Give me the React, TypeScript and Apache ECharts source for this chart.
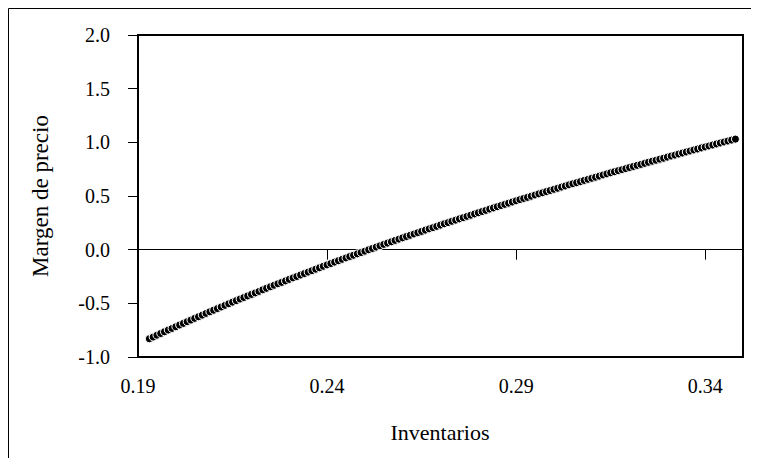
import React, { useEffect, useRef } from "react";
import * as echarts from "echarts";

const xValues: number[] = [
  0.193, 0.194, 0.195, 0.196, 0.197, 0.198, 0.199, 0.2, 0.201, 0.202, 0.203, 0.204, 0.205,
  0.206, 0.207, 0.208, 0.209, 0.21, 0.211, 0.212, 0.213, 0.214, 0.215, 0.216, 0.217, 0.218,
  0.219, 0.22, 0.221, 0.222, 0.223, 0.224, 0.225, 0.226, 0.227, 0.228, 0.229, 0.23, 0.231,
  0.232, 0.233, 0.234, 0.235, 0.236, 0.237, 0.238, 0.239, 0.24, 0.241, 0.242, 0.243, 0.244,
  0.245, 0.246, 0.247, 0.248, 0.249, 0.25, 0.251, 0.252, 0.253, 0.254, 0.255, 0.256, 0.257,
  0.258, 0.259, 0.26, 0.261, 0.262, 0.263, 0.264, 0.265, 0.266, 0.267, 0.268, 0.269, 0.27,
  0.271, 0.272, 0.273, 0.274, 0.275, 0.276, 0.277, 0.278, 0.279, 0.28, 0.281, 0.282, 0.283,
  0.284, 0.285, 0.286, 0.287, 0.288, 0.289, 0.29, 0.291, 0.292, 0.293, 0.294, 0.295, 0.296,
  0.297, 0.298, 0.299, 0.3, 0.301, 0.302, 0.303, 0.304, 0.305, 0.306, 0.307, 0.308, 0.309,
  0.31, 0.311, 0.312, 0.313, 0.314, 0.315, 0.316, 0.317, 0.318, 0.319, 0.32, 0.321, 0.322,
  0.323, 0.324, 0.325, 0.326, 0.327, 0.328, 0.329, 0.33, 0.331, 0.332, 0.333, 0.334, 0.335,
  0.336, 0.337, 0.338, 0.339, 0.34, 0.341, 0.342, 0.343, 0.344, 0.345, 0.346, 0.347, 0.348,
];

const yValues: number[] = [
  -0.83, -0.814, -0.797, -0.781, -0.765, -0.749, -0.734, -0.718, -0.702, -0.687, -0.671, -0.656, -0.64,
  -0.625, -0.61, -0.594, -0.579, -0.564, -0.549, -0.534, -0.519, -0.504, -0.489, -0.475, -0.46, -0.446,
  -0.431, -0.417, -0.403, -0.389, -0.374, -0.36, -0.346, -0.332, -0.318, -0.305, -0.291, -0.277, -0.263,
  -0.25, -0.236, -0.223, -0.209, -0.196, -0.182, -0.169, -0.155, -0.142, -0.129, -0.116, -0.103, -0.09,
  -0.077, -0.064, -0.052, -0.039, -0.027, -0.014, -0.001, 0.011, 0.024, 0.036, 0.049, 0.061, 0.073,
  0.086, 0.098, 0.11, 0.122, 0.134, 0.146, 0.158, 0.17, 0.182, 0.194, 0.205, 0.217, 0.229,
  0.241, 0.252, 0.264, 0.275, 0.287, 0.298, 0.31, 0.321, 0.333, 0.344, 0.355, 0.366, 0.378,
  0.389, 0.4, 0.411, 0.422, 0.433, 0.444, 0.455, 0.466, 0.477, 0.487, 0.498, 0.509, 0.52,
  0.53, 0.541, 0.551, 0.562, 0.572, 0.583, 0.593, 0.604, 0.614, 0.624, 0.634, 0.645, 0.655,
  0.665, 0.675, 0.685, 0.696, 0.706, 0.716, 0.726, 0.736, 0.745, 0.755, 0.765, 0.775, 0.785,
  0.794, 0.804, 0.814, 0.824, 0.833, 0.843, 0.852, 0.862, 0.872, 0.881, 0.891, 0.9, 0.91,
  0.919, 0.929, 0.938, 0.948, 0.957, 0.966, 0.975, 0.985, 0.994, 1.003, 1.012, 1.021, 1.03,
];

const xAxisTitle = "Inventarios";
const yAxisTitle = "Margen de precio";
const xMin = 0.19;
const xMax = 0.35;
const xStep = 0.05;
const yMin = -1;
const yMax = 2;
const yStep = 0.5;

const FONT = "'Liberation Serif', 'DejaVu Serif', serif";

export default function App() {
  const ref = useRef<HTMLDivElement>(null);

  useEffect(() => {
    if (!ref.current) return;
    const chart = echarts.init(ref.current, null, { renderer: "svg" });
    const points = xValues.map((x, i) => [x, yValues[i]]);

    chart.setOption({
      animation: false,
      backgroundColor: "#fff",
      grid: {
        left: 130,
        top: 27,
        right: 16,
        bottom: 101,
        show: true,
        borderColor: "#000",
        borderWidth: 2,
        backgroundColor: "transparent",
      },
      xAxis: [
        {
          type: "value",
          min: xMin,
          max: xMax,
          interval: xStep,
          position: "bottom",
          axisLine: { show: true, onZero: true, lineStyle: { color: "#000", width: 1 } },
          axisTick: { show: true, length: 10, inside: false, lineStyle: { color: "#000", width: 1 } },
          axisLabel: { show: false },
          splitLine: { show: false },
        },
        {
          type: "value",
          min: xMin,
          max: xMax,
          interval: xStep,
          position: "bottom",
          axisLine: { show: false, onZero: false },
          axisTick: { show: false },
          axisLabel: {
            show: true,
            margin: 19,
            color: "#000",
            fontFamily: FONT,
            fontSize: 20,
            showMaxLabel: false,
            formatter: (v: number) => v.toFixed(2),
          },
          splitLine: { show: false },
        },
      ],
      yAxis: {
        type: "value",
        min: yMin,
        max: yMax,
        interval: yStep,
        axisLine: { show: true, onZero: false, lineStyle: { color: "#000", width: 1 } },
        axisTick: { show: true, length: 10, inside: false, lineStyle: { color: "#000", width: 1 } },
        axisLabel: {
          margin: 28,
          color: "#000",
          fontFamily: FONT,
          fontSize: 20,
          formatter: (v: number) => v.toFixed(1),
        },
        splitLine: { show: false },
      },
      graphic: [
        {
          type: "rect",
          silent: true,
          shape: { x: 0.5, y: 0.5, width: 750, height: 470 },
          style: { fill: "none", stroke: "#000", lineWidth: 1 },
          z: 100,
        },
        {
          type: "text",
          x: 432,
          y: 424,
          style: {
            text: xAxisTitle,
            fill: "#000",
            font: `22px ${FONT}`,
            align: "center",
            verticalAlign: "middle",
          },
        },
        {
          type: "text",
          x: 32,
          y: 188,
          rotation: Math.PI / 2,
          style: {
            text: yAxisTitle,
            fill: "#000",
            font: `23px ${FONT}`,
            align: "center",
            verticalAlign: "middle",
          },
        },
      ],
      series: [
        {
          type: "scatter",
          xAxisIndex: 0,
          yAxisIndex: 0,
          data: points,
          symbol: "circle",
          symbolSize: 8,
          itemStyle: { color: "#000", borderColor: "#fff", borderWidth: 1, opacity: 1 },
          emphasis: { disabled: true },
        },
      ],
    });

    return () => chart.dispose();
  }, []);

  return <div ref={ref} style={{ width: 751, height: 450 }} />;
}
